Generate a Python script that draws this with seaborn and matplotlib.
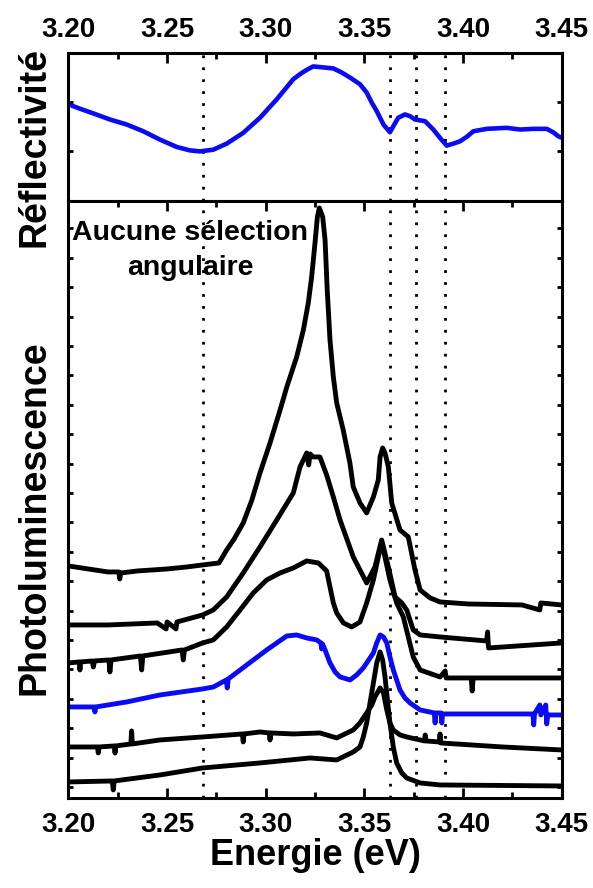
import numpy as np
import pandas as pd
import matplotlib
matplotlib.use("Agg")
import matplotlib.pyplot as plt
from matplotlib.ticker import MultipleLocator, FormatStrFormatter
import seaborn as sns

# réflectivité (u.a.)
refl_e = [3.2000, 3.2058, 3.2126, 3.2210, 3.2295, 3.2379, 3.2464, 3.2549, 3.2616, 3.2667,
          3.2734, 3.2802, 3.2886, 3.2971, 3.3056, 3.3140, 3.3174, 3.3208, 3.3241, 3.3292,
          3.3343, 3.3385, 3.3427, 3.3478, 3.3512, 3.3538, 3.3563, 3.3597, 3.3630, 3.3647,
          3.3672, 3.3706, 3.3732, 3.3757, 3.3808, 3.3850, 3.3884, 3.3918, 3.3951, 3.3985,
          3.4019, 3.4053, 3.4121, 3.4222, 3.4290, 3.4357, 3.4425, 3.4458, 3.4484, 3.4500]
refl = [95, 90.7, 86, 80, 75, 68.3, 60, 52.7, 49.3, 48.3,
        50, 56, 66.7, 81.7, 100, 120, 125, 129.3, 132.7, 131.7,
        130.7, 126.7, 121.7, 115, 106.7, 96.7, 88.3, 75, 67.3, 73.3,
        81.7, 85, 83.3, 80, 78.3, 70, 61.7, 54, 56, 58.3,
        62.7, 68.3, 70.7, 71.7, 70, 70.7, 70.7, 67.3, 63.3, 62]

# spectres de photoluminescence (u.a., décalés)
pl1_e = [3.2000, 3.2100, 3.2200, 3.2255, 3.2260, 3.2265, 3.2350, 3.2500, 3.2600, 3.2680,
         3.2763, 3.2802, 3.2840, 3.2886, 3.2930, 3.2971, 3.3022, 3.3073, 3.3107, 3.3157,
         3.3191, 3.3216, 3.3233, 3.3250, 3.3262, 3.3272, 3.3289, 3.3301, 3.3312, 3.3326,
         3.3343, 3.3360, 3.3393, 3.3427, 3.3444, 3.3478, 3.3512, 3.3546, 3.3571, 3.3580,
         3.3593, 3.3605, 3.3622, 3.3639, 3.3681, 3.3723, 3.3757, 3.3783, 3.3834, 3.3884,
         3.4025, 3.4300, 3.4390, 3.4395, 3.4500]
pl1 = [221, 218, 215, 215, 208, 214, 216, 218, 220, 222,
       224, 237, 248, 264, 287, 314, 344, 377, 400, 430,
       457, 484, 510, 544, 570, 579, 570, 547, 497, 447,
       410, 384, 357, 324, 300, 284, 274, 290, 307, 330,
       339, 334, 320, 284, 257, 250, 217, 197, 189, 185,
       183, 182, 177, 184, 182]

pl2_e = [3.2000, 3.2200, 3.2450, 3.2495, 3.2500, 3.2545, 3.2550, 3.2680, 3.2734, 3.2802,
         3.2886, 3.2971, 3.3056, 3.3140, 3.3174, 3.3208, 3.3218, 3.3225, 3.3241, 3.3275,
         3.3309, 3.3343, 3.3377, 3.3444, 3.3512, 3.3554, 3.3588, 3.3622, 3.3656, 3.3690,
         3.3715, 3.3748, 3.3783, 3.3884, 3.4120, 3.4125, 3.4130, 3.4500]
pl2 = [162, 162, 164, 158, 165, 158, 165, 172, 177, 190,
       214, 240, 267, 294, 320, 334, 322, 333, 330, 330,
       312, 290, 267, 230, 204, 220, 247, 220, 190, 184,
       177, 157, 152, 150, 146, 155, 139, 144]

pl3_e = [3.2000, 3.2055, 3.2058, 3.2062, 3.2120, 3.2126, 3.2132, 3.2205, 3.2210, 3.2216,
         3.2365, 3.2371, 3.2377, 3.2576, 3.2582, 3.2588, 3.2680, 3.2734, 3.2802, 3.2870,
         3.2937, 3.3005, 3.3073, 3.3140, 3.3208, 3.3267, 3.3309, 3.3326, 3.3343, 3.3360,
         3.3394, 3.3436, 3.3478, 3.3512, 3.3546, 3.3571, 3.3588, 3.3630, 3.3664, 3.3698,
         3.3723, 3.3748, 3.3783, 3.3884, 3.3910, 3.3915, 3.4042, 3.4047, 3.4052, 3.4500]
pl3 = [124, 125, 117, 125, 126, 120, 126, 127, 115, 127,
       131, 117, 131, 137, 127, 137, 144, 147, 160, 177,
       194, 207, 214, 219, 226, 224, 216, 200, 184, 174,
       164, 160, 165, 184, 207, 230, 245, 207, 184, 170,
       150, 130, 117, 110, 116, 109, 109, 96, 109, 109]

pl4_e = [3.2000, 3.2130, 3.2134, 3.2138, 3.2295, 3.2464, 3.2680, 3.2735, 3.2800, 3.2805,
         3.2810, 3.2904, 3.3005, 3.3056, 3.3107, 3.3157, 3.3208, 3.3259, 3.3280, 3.3284,
         3.3288, 3.3301, 3.3326, 3.3352, 3.3377, 3.3428, 3.3461, 3.3495, 3.3546, 3.3563,
         3.3580, 3.3597, 3.3614, 3.3630, 3.3647, 3.3681, 3.3706, 3.3732, 3.3783, 3.3855,
         3.3859, 3.3863, 3.3889, 3.3893, 3.3897, 3.4355, 3.4359, 3.4363, 3.4390, 3.4395,
         3.4420, 3.4425, 3.4430, 3.4500]
pl4 = [80, 80, 75, 80, 85, 92, 98, 100, 107, 99,
       108, 122, 137, 144, 151, 152, 149, 147, 144, 138,
       143, 137, 124, 115, 110, 107, 112, 119, 134, 144,
       152, 150, 144, 130, 117, 97, 89, 84, 77, 74,
       64, 74, 74, 64, 73, 73, 62, 73, 82, 72,
       82, 63, 72, 72]

pl5_e = [3.2000, 3.2147, 3.2151, 3.2155, 3.2232, 3.2236, 3.2240, 3.2316, 3.2320, 3.2324,
         3.2464, 3.2680, 3.2882, 3.2886, 3.2890, 3.2971, 3.3018, 3.3022, 3.3026, 3.3140,
         3.3275, 3.3360, 3.3444, 3.3478, 3.3512, 3.3538, 3.3554, 3.3580, 3.3597, 3.3614,
         3.3630, 3.3647, 3.3681, 3.3715, 3.3783, 3.3805, 3.3809, 3.3813, 3.3880, 3.3884,
         3.3888, 3.4200, 3.4500]
pl5 = [40, 40, 34, 40, 41, 34, 41, 43, 56, 43,
       47, 50, 53, 45, 53, 55, 54, 47, 54, 53,
       54, 49, 57, 64, 74, 82, 90, 99, 94, 77,
       64, 57, 52, 50, 47, 46, 52, 46, 45, 53,
       44, 40, 37]

pl6_e = [3.2000, 3.2222, 3.2227, 3.2232, 3.2464, 3.2680, 3.2971, 3.3225, 3.3360, 3.3444,
         3.3478, 3.3495, 3.3512, 3.3529, 3.3546, 3.3563, 3.3580, 3.3593, 3.3605, 3.3619,
         3.3630, 3.3647, 3.3664, 3.3690, 3.3715, 3.3783, 3.3884, 3.4500]
pl6 = [5, 6, -3, 6, 12, 19, 24, 29, 27, 35,
       40, 50, 64, 84, 104, 124, 135, 127, 110, 84,
       64, 40, 24, 14, 9, 4, 2, 1]

# énergies des traits pointillés
marques = [3.268, 3.3632, 3.3763, 3.3911]

bleu = "#0a0af5"

sns.set_style("ticks")
plt.rcParams['font.family'] = ['Liberation Sans', 'DejaVu Sans']
plt.rcParams['font.weight'] = 'bold'
for k in ['text.color', 'axes.labelcolor', 'xtick.color', 'ytick.color', 'axes.edgecolor']:
    plt.rcParams[k] = 'black'

spectres = [("s1", pl1_e, pl1), ("s2", pl2_e, pl2), ("s3", pl3_e, pl3),
            ("s4", pl4_e, pl4), ("s5", pl5_e, pl5), ("s6", pl6_e, pl6)]
df = pd.concat([pd.DataFrame({"E": e, "PL": v, "spectre": n}) for n, e, v in spectres])
couleurs = {"s1": "black", "s2": "black", "s3": "black", "s4": bleu, "s5": "black", "s6": "black"}

fig = plt.figure(figsize=(5.93, 8.88), dpi=100)
ax_r = fig.add_axes([0.1155, 0.7736, 0.8314, 0.1667])
ax_pl = fig.add_axes([0.1155, 0.1014, 0.8314, 0.6723])

sns.lineplot(x=refl_e, y=refl, ax=ax_r, color=bleu, lw=3.3, estimator=None, sort=False)
sns.lineplot(data=df, x="E", y="PL", hue="spectre", palette=couleurs, ax=ax_pl,
             lw=3.5, estimator=None, sort=False, legend=False)

for ax in (ax_r, ax_pl):
    for m in marques:
        ax.axvline(m, color="black", lw=2, ls=(0, (1, 3.3)), zorder=1)
    ax.set_xlim(3.20, 3.45)
    ax.xaxis.set_major_locator(MultipleLocator(0.05))
    ax.xaxis.set_minor_locator(MultipleLocator(0.025))
    ax.xaxis.set_major_formatter(FormatStrFormatter("%.2f"))
    for s in ax.spines.values():
        s.set_linewidth(2.2)
    ax.tick_params(which="both", direction="in", width=2, labelsize=20)
    ax.tick_params(which="major", axis="x", length=7)
    ax.tick_params(which="minor", axis="x", length=4)
    ax.tick_params(axis="y", which="major", length=3.5, left=True, right=True, labelleft=False)
    ax.set_xlabel("")
    ax.set_ylabel("")

ax_r.set_ylim(-1, 146)
ax_r.set_yticks([48.5, 97])
ax_r.tick_params(axis="x", which="both", top=True, bottom=False, labeltop=True, labelbottom=False, pad=7)

ax_pl.set_ylim(-11, 586)
ax_pl.set_yticks(np.arange(20) * 29.4)
ax_pl.tick_params(axis="x", which="both", top=True, bottom=True, pad=10)

ax_pl.text(3.2616, 536, "Aucune sélection\nangulaire", ha="center", va="center",
           fontsize=20.5, fontweight="bold", linespacing=1.45)

ax_pl.set_xlabel("Energie (eV)", fontsize=26, fontweight="bold", labelpad=0)
ax_pl.set_ylabel("Photoluminescence", fontsize=27, fontweight="bold")
ax_pl.yaxis.set_label_coords(-0.032, 0.47)
ax_r.set_ylabel("Réflectivité", fontsize=27, fontweight="bold")
ax_r.yaxis.set_label_coords(-0.032, 0.365)

fig.savefig("out.png", dpi=100)
